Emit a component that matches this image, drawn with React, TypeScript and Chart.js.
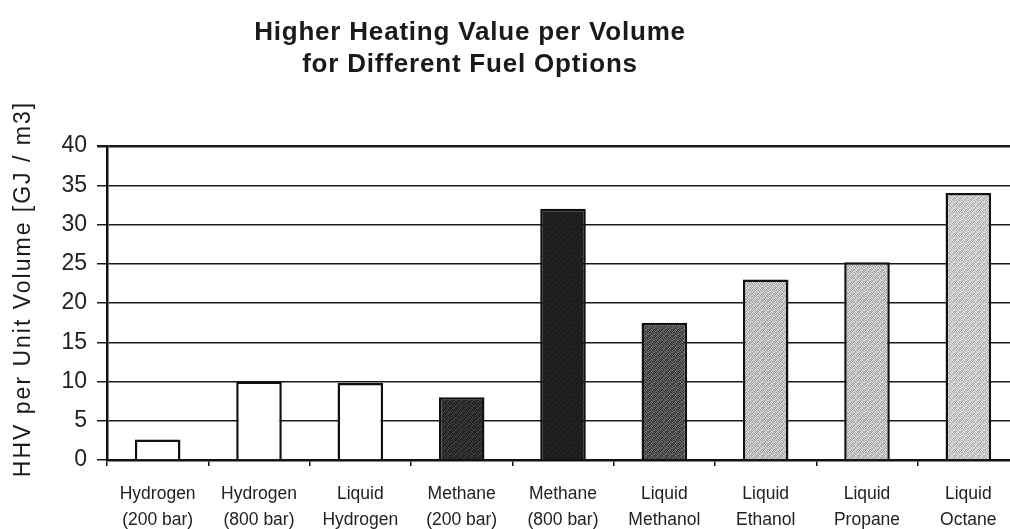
import { useEffect, useRef } from "react";
import { Chart, registerables } from "chart.js";

Chart.register(...registerables);

// ---------- data ----------
const categories: string[][] = [
  ["Hydrogen", "(200 bar)"],
  ["Hydrogen", "(800 bar)"],
  ["Liquid", "Hydrogen"],
  ["Methane", "(200 bar)"],
  ["Methane", "(800 bar)"],
  ["Liquid", "Methanol"],
  ["Liquid", "Ethanol"],
  ["Liquid", "Propane"],
  ["Liquid", "Octane"],
];
const hhvValues: number[] = [2.6, 10, 9.8, 8, 32, 17.5, 23, 25.2, 34];
const yTickValues: number[] = [0, 5, 10, 15, 20, 25, 30, 35, 40];
const titleLines: string[] = [
  "Higher Heating Value per Volume",
  "for Different Fuel Options",
];
const yAxisTitle = "HHV per Unit Volume [GJ / m3]";

// ---------- styles ----------
// base grey level and stipple amplitude for each bar (255 = white)
const barGrey: number[] = [255, 255, 255, 45, 30, 80, 190, 192, 200];
const barStipple: number[] = [0, 0, 0, 30, 14, 45, 45, 45, 45];

const DITHER = [
  [0.2, -0.9, 0.6, -0.3, 1.0, -0.6],
  [-0.7, 0.9, -0.1, 0.5, -1.0, 0.3],
  [0.8, -0.4, -1.0, 0.7, 0.1, -0.8],
  [-0.2, 0.4, 0.9, -0.9, 0.6, -0.1],
  [1.0, -0.6, 0.3, -0.5, -0.3, 0.8],
  [-0.5, 0.1, -0.8, 1.0, 0.4, -0.4],
];

function makeFill(grey: number, amp: number): string | CanvasPattern {
  if (amp === 0) return `rgb(${grey},${grey},${grey})`;
  const c = document.createElement("canvas");
  c.width = 6;
  c.height = 6;
  const g = c.getContext("2d")!;
  const img = g.createImageData(6, 6);
  for (let y = 0; y < 6; y++) {
    for (let x = 0; x < 6; x++) {
      const v = Math.max(0, Math.min(255, Math.round(grey + amp * DITHER[y][x])));
      const i = (y * 6 + x) * 4;
      img.data[i] = v;
      img.data[i + 1] = v;
      img.data[i + 2] = v;
      img.data[i + 3] = 255;
    }
  }
  g.putImageData(img, 0, 0);
  const p = g.createPattern(c, "repeat");
  return p || `rgb(${grey},${grey},${grey})`;
}

const FONT = "Arial, 'Liberation Sans', sans-serif";

const textPlugin = {
  id: "customText",
  afterDraw(chart: any) {
    const ctx: CanvasRenderingContext2D = chart.ctx;
    ctx.save();
    ctx.fillStyle = "#1a1a1a";
    ctx.font = `bold 26px ${FONT}`;
    (ctx as any).letterSpacing = "0.8px";
    ctx.textAlign = "center";
    ctx.textBaseline = "alphabetic";
    ctx.fillText(titleLines[0], 470, 40);
    ctx.fillText(titleLines[1], 470, 72);
    ctx.restore();

    ctx.save();
    ctx.fillStyle = "#1a1a1a";
    ctx.font = `23px ${FONT}`;
    (ctx as any).letterSpacing = "2px";
    ctx.textAlign = "center";
    ctx.textBaseline = "alphabetic";
    ctx.translate(30, 289);
    ctx.rotate(-Math.PI / 2);
    ctx.fillText(yAxisTitle, 0, 0);
    ctx.restore();
  },
};

export default function App() {
  const canvasRef = useRef<HTMLCanvasElement | null>(null);

  useEffect(() => {
    const canvas = canvasRef.current;
    if (!canvas) return;
    const fills = hhvValues.map((_, i) => makeFill(barGrey[i], barStipple[i]));
    const chart = new Chart(canvas, {
      type: "bar",
      data: {
        labels: categories,
        datasets: [
          {
            data: hhvValues,
            backgroundColor: fills as any,
            borderColor: "#111",
            borderWidth: 2.5,
            barPercentage: 0.45,
            categoryPercentage: 1,
          },
        ],
      },
      options: {
        responsive: false,
        animation: false,
        devicePixelRatio: 1,
        layout: { padding: { left: 0, top: 146, right: 11, bottom: 0 } },
        plugins: {
          legend: { display: false },
          title: { display: false },
          tooltip: { enabled: false },
        },
        scales: {
          x: {
            offset: true,
            grid: {
              offset: true,
              drawOnChartArea: false,
              drawTicks: true,
              tickLength: 6,
              color: "#111",
              lineWidth: 1.5,
            },
            border: { display: true, color: "#111", width: 2.5 },
            ticks: {
              color: "#222",
              padding: 15,
              maxRotation: 0,
              autoSkip: false,
              font: { family: FONT, size: 17.5, lineHeight: 1.5 },
            },
            afterFit: (scale: any) => {
              scale.height = 69;
            },
          },
          y: {
            min: 0,
            max: 40,
            afterBuildTicks: (scale: any) => {
              scale.ticks = yTickValues.map((v) => ({ value: v }));
            },
            grid: {
              color: "#1a1a1a",
              lineWidth: (c: any) => (c.tick && c.tick.value === 40 ? 2.5 : 1.5),
              tickLength: 10,
              drawTicks: true,
            },
            border: { display: true, color: "#111", width: 2.5 },
            ticks: {
              color: "#222",
              padding: 10,
              font: { family: FONT, size: 23 },
            },
            afterFit: (scale: any) => {
              scale.width = 107;
            },
          },
        },
      },
      plugins: [textPlugin],
    });
    return () => chart.destroy();
  }, []);

  return (
    <div
      style={{
        position: "fixed",
        left: 0,
        top: 0,
        width: 1010,
        height: 529,
        overflow: "hidden",
        background: "#fff",
      }}
    >
      <canvas ref={canvasRef} width={1030} height={529} style={{ display: "block" }} />
    </div>
  );
}
